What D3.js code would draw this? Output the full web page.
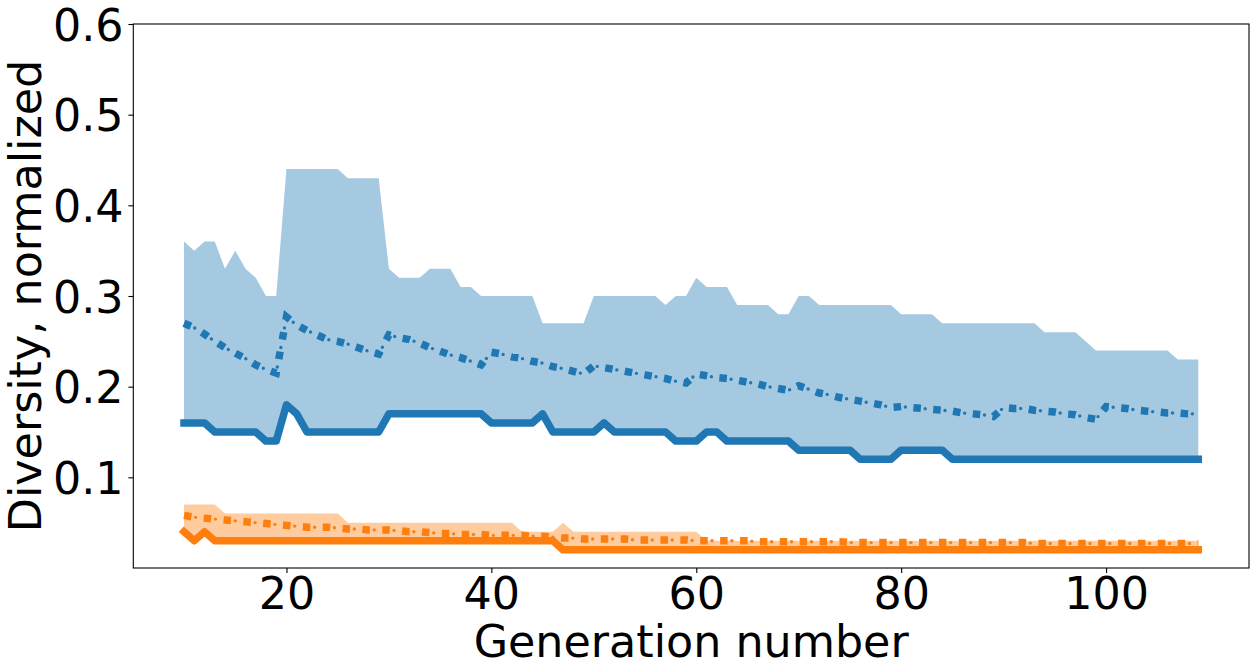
<!DOCTYPE html>
<html><head><meta charset="utf-8">
<script src="https://cdn.jsdelivr.net/npm/d3@7"></script>
<style>
html,body{margin:0;padding:0;background:#fff;}
svg{display:block;}
text{font-family:"DejaVu Sans",sans-serif;fill:#000;}
</style></head>
<body>
<svg id="chart" width="1259" height="672"></svg>
<script>
const generations = d3.range(10, 110);
const xTicks = [20, 40, 60, 80, 100];
const yTicks = [0.1, 0.2, 0.3, 0.4, 0.5, 0.6];
const xLabel = "Generation number";
const yLabel = "Diversity, normalized";

const blueMin = [
 .16,.16,.16,.15,.15,.15,.15,.15,.14,.14,
 .18,.17,.15,.15,.15,.15,.15,.15,.15,.15,
 .17,.17,.17,.17,.17,.17,.17,.17,.17,.17,
 .16,.16,.16,.16,.16,.17,.15,.15,.15,.15,
 .15,.16,.15,.15,.15,.15,.15,.15,.14,.14,
 .14,.15,.15,.14,.14,.14,.14,.14,.14,.14,
 .13,.13,.13,.13,.13,.13,.12,.12,.12,.12,
 .13,.13,.13,.13,.13,.12,.12,.12,.12,.12,
 .12,.12,.12,.12,.12,.12,.12,.12,.12,.12,
 .12,.12,.12,.12,.12,.12,.12,.12,.12,.12];
const blueMax = [
 .36,.35,.36,.36,.33,.35,.33,.32,.30,.30,
 .44,.44,.44,.44,.44,.44,.43,.43,.43,.43,
 .33,.32,.32,.32,.33,.33,.33,.31,.31,.30,
 .30,.30,.30,.30,.30,.27,.27,.27,.27,.27,
 .30,.30,.30,.30,.30,.30,.30,.29,.30,.30,
 .32,.31,.31,.31,.29,.29,.29,.29,.28,.28,
 .30,.30,.29,.29,.29,.29,.29,.29,.29,.29,
 .28,.28,.28,.28,.27,.27,.27,.27,.27,.27,
 .27,.27,.27,.27,.26,.26,.26,.26,.25,.24,
 .24,.24,.24,.24,.24,.24,.24,.23,.23,.23];
const blueMean = [
 .270,.265,.258,.250,.243,.237,.231,.224,.219,.215,
 .277,.268,.262,.257,.252,.250,.247,.243,.239,.236,
 .257,.254,.252,.248,.243,.239,.235,.232,.228,.224,
 .238,.236,.233,.231,.228,.226,.222,.220,.217,.214,
 .223,.221,.219,.217,.215,.213,.211,.209,.206,.204,
 .214,.212,.210,.209,.207,.205,.203,.200,.198,.196,
 .201,.197,.193,.191,.188,.186,.184,.182,.180,.177,
 .178,.177,.176,.175,.174,.173,.171,.170,.169,.167,
 .177,.176,.176,.174,.173,.172,.170,.169,.166,.164,
 .178,.177,.176,.174,.173,.172,.171,.171,.170,.170];
const orangeMin = [
 .04,.03,.04,.03,.03,.03,.03,.03,.03,.03,
 .03,.03,.03,.03,.03,.03,.03,.03,.03,.03,
 .03,.03,.03,.03,.03,.03,.03,.03,.03,.03,
 .03,.03,.03,.03,.03,.03,.03,.02,.02,.02,
 .02,.02,.02,.02,.02,.02,.02,.02,.02,.02,
 .02,.02,.02,.02,.02,.02,.02,.02,.02,.02,
 .02,.02,.02,.02,.02,.02,.02,.02,.02,.02,
 .02,.02,.02,.02,.02,.02,.02,.02,.02,.02,
 .02,.02,.02,.02,.02,.02,.02,.02,.02,.02,
 .02,.02,.02,.02,.02,.02,.02,.02,.02,.02];
const orangeMax = [
 .07,.07,.07,.07,.06,.06,.06,.06,.06,.06,
 .06,.06,.06,.06,.06,.06,.05,.05,.05,.05,
 .05,.05,.05,.05,.05,.05,.05,.05,.05,.05,
 .05,.05,.05,.04,.04,.04,.04,.05,.04,.04,
 .04,.04,.04,.04,.04,.04,.04,.04,.04,.04,
 .04,.03,.03,.03,.03,.03,.03,.03,.03,.03,
 .03,.03,.03,.03,.03,.03,.03,.03,.03,.03,
 .03,.03,.03,.03,.03,.03,.03,.03,.03,.03,
 .03,.03,.03,.03,.03,.03,.03,.03,.03,.03,
 .03,.03,.03,.03,.03,.03,.03,.03,.03,.03];
const orangeMean = [
 .058,.056,.055,.054,.053,.052,.051,.050,.049,.048,
 .047,.046,.045,.045,.045,.044,.043,.043,.042,.042,
 .042,.041,.040,.040,.039,.038,.038,.037,.037,.037,
 .036,.036,.036,.036,.035,.035,.034,.033,.033,.032,
 .032,.032,.032,.032,.031,.031,.031,.031,.031,.031,
 .030,.030,.030,.030,.030,.030,.029,.029,.029,.029,
 .029,.029,.029,.029,.029,.028,.028,.028,.028,.028,
 .028,.028,.028,.028,.028,.028,.028,.028,.028,.028,
 .028,.028,.028,.027,.027,.027,.027,.027,.027,.027,
 .027,.027,.027,.027,.027,.027,.027,.027,.027,.027];

(function () {
const BLUE = "#1f77b4", ORANGE = "#ff7f0e";
const pL = 133.3, pR = 1249, pT = 24, pB = 568;
const FS = 44.4;

const svg = d3.select("#chart");
const x = d3.scaleLinear().domain([5.05, 113.95]).range([pL, pR]);
const y = d3.scaleLinear().domain([0, 0.6]).range([pB, pT]);

function rows(a, b) { return generations.map((g, i) => ({g, lo: a[i], hi: b ? b[i] : null})); }

const area = d3.area().x(d => x(d.g)).y0(d => y(d.lo)).y1(d => y(d.hi));
const line = d3.line().x(d => x(d.g)).y(d => y(d.lo));

const plot = svg.append("g");
plot.append("path").attr("d", area(rows(blueMin, blueMax))).attr("fill", BLUE).attr("fill-opacity", 0.4);
plot.append("path").attr("d", area(rows(orangeMin, orangeMax))).attr("fill", ORANGE).attr("fill-opacity", 0.4);

function solid(vals, color) {
  plot.append("path").attr("d", line(rows(vals))).attr("fill", "none")
    .attr("stroke", color).attr("stroke-width", 7.5)
    .attr("stroke-linecap", "square").attr("stroke-linejoin", "round");
}
function meanLine(vals, color) {
  const d = line(rows(vals));
  plot.append("path").attr("d", d).attr("fill", "none")
    .attr("stroke", color).attr("stroke-width", 7.5)
    .attr("stroke-dasharray", "7.5 12.4").attr("stroke-linecap", "butt");
  plot.append("path").attr("d", d).attr("fill", "none")
    .attr("stroke", color).attr("stroke-width", 3.4)
    .attr("stroke-dasharray", "0 19.9").attr("stroke-dashoffset", -11.8)
    .attr("stroke-linecap", "round");
}
solid(blueMin, BLUE);
meanLine(blueMean, BLUE);
solid(orangeMin, ORANGE);
meanLine(orangeMean, ORANGE);

svg.append("rect").attr("x", pL).attr("y", pT).attr("width", pR - pL).attr("height", pB - pT)
  .attr("fill", "none").attr("stroke", "#000").attr("stroke-width", 1.1);

const xAxis = d3.axisBottom(x).tickValues(xTicks).tickSize(4.9).tickPadding(4.9).tickFormat(d3.format("d"));
const gx = svg.append("g").attr("transform", `translate(0,${pB})`).call(xAxis);
gx.select(".domain").remove();
gx.selectAll(".tick line").attr("stroke", "#000").attr("stroke-width", 1.1);
gx.selectAll(".tick text").attr("font-size", FS).attr("font-family", "DejaVu Sans")
  .attr("dy", null).attr("y", 40.5).attr("fill", "#000");

const yAxis = d3.axisLeft(y).tickValues(yTicks).tickSize(4.9).tickPadding(4.9).tickFormat(d3.format(".1f"));
const gy = svg.append("g").attr("transform", `translate(${pL},0)`).call(yAxis);
gy.select(".domain").remove();
gy.selectAll(".tick line").attr("stroke", "#000").attr("stroke-width", 1.1);
gy.selectAll(".tick text").attr("font-size", FS).attr("font-family", "DejaVu Sans")
  .attr("dy", 16.2).attr("fill", "#000");

svg.append("text").attr("x", (pL + pR) / 2).attr("y", 656.5).attr("text-anchor", "middle")
  .attr("font-size", FS).text(xLabel);
svg.append("text").attr("transform", `translate(40.5,${(pT + pB) / 2}) rotate(-90)`)
  .attr("text-anchor", "middle").attr("font-size", FS).text(yLabel);
})();
</script>
</body></html>
